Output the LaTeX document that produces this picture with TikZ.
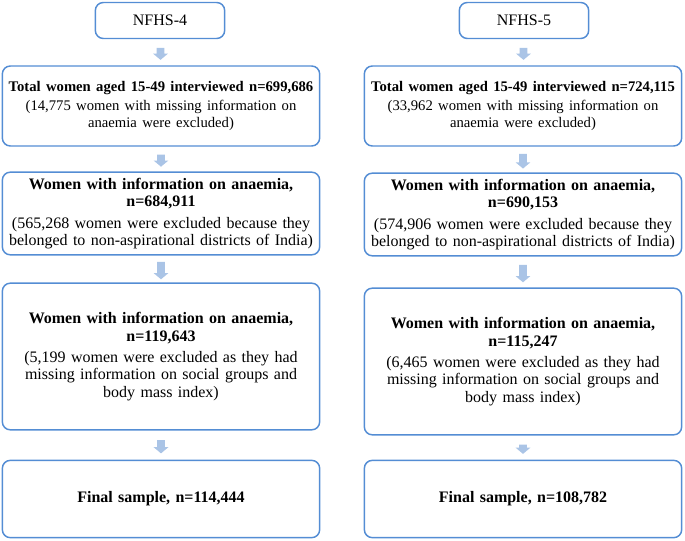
\documentclass[tikz,border=0pt]{standalone}
\usepackage{fontspec}
\setmainfont{Liberation Serif}
\usetikzlibrary{shapes.arrows, calc}

\definecolor{boxline}{RGB}{84,141,212}
\definecolor{arrowfill}{RGB}{170,196,230}

\tikzset{
  stage/.style={draw=boxline, line width=1.1pt, rounded corners=6pt, fill=white,
    align=center, text width=236pt, inner xsep=1pt, font=\fontsize{12}{13}\selectfont},
  survey/.style={stage, text width=95pt},
  down/.style={single arrow, draw=none, fill=arrowfill, rotate=-90,
    minimum height=#1, minimum width=11pt, single arrow head extend=1.5pt,
    inner sep=1.5pt, single arrow tip angle=100},
  down/.default=10pt
}
\newcommand{\headline}[1]{{\fontsize{11}{13}\selectfont\bfseries #1}}

\begin{document}
\begin{tikzpicture}[x=0.75pt,y=-0.75pt]
  \useasboundingbox (0,0) rectangle (685,541);

  % NFHS-4
  \node[survey, minimum height=27pt] (SurveyA) at (160,20.5) {NFHS-4};
  \node[stage, minimum height=60pt] (TotalA) at (161,106) {\headline{Total women aged 15-49 interviewed n=699,686}\\[2pt]{\fontsize{11}{12}\selectfont(14,775 women with missing information on\\anaemia were excluded)}};
  \node[stage, minimum height=62pt] (AnaemiaA) at (161,213.5) {\textbf{Women with information on anaemia,}\\\textbf{n=684,911}\\[3pt](565,268 women were excluded because they\\belonged to non-aspirational districts of India)};
  \node[stage, minimum height=110pt] (SocialA) at (161,356.5) {\textbf{Women with information on anaemia,}\\\textbf{n=119,643}\\[3pt](5,199 women were excluded as they had\\missing information on social groups and\\body mass index)};
  \node[stage, minimum height=58pt] (FinalA) at (161,499) {\textbf{Final sample, n=114,444}};

  % NFHS-5
  \node[survey, minimum height=27pt] (SurveyB) at (524,20.5) {NFHS-5};
  \node[stage, minimum height=60pt] (TotalB) at (523,106) {\headline{Total women aged 15-49 interviewed n=724,115}\\[2pt]{\fontsize{11}{12}\selectfont(33,962 women with missing information on\\anaemia were excluded)}};
  \node[stage, minimum height=62pt] (AnaemiaB) at (523,214.5) {\textbf{Women with information on anaemia,}\\\textbf{n=690,153}\\[3pt](574,906 women were excluded because they\\belonged to non-aspirational districts of India)};
  \node[stage, minimum height=110pt] (SocialB) at (523,361.5) {\textbf{Women with information on anaemia,}\\\textbf{n=115,247}\\[3pt](6,465 women were excluded as they had\\missing information on social groups and\\body mass index)};
  \node[stage, minimum height=58pt] (FinalB) at (523,499) {\textbf{Final sample, n=108,782}};

  % block arrows between stages
  \foreach \a/\b/\len in {SurveyA/TotalA/9pt, TotalA/AnaemiaA/9pt, AnaemiaA/SocialA/13pt, SocialA/FinalA/10pt,
                         SurveyB/TotalB/9pt, TotalB/AnaemiaB/11pt, AnaemiaB/SocialB/13pt, SocialB/FinalB/7pt}
    \node[down=\len] at ($(\a.south)!0.5!(\b.north)$) {};
\end{tikzpicture}
\end{document}
